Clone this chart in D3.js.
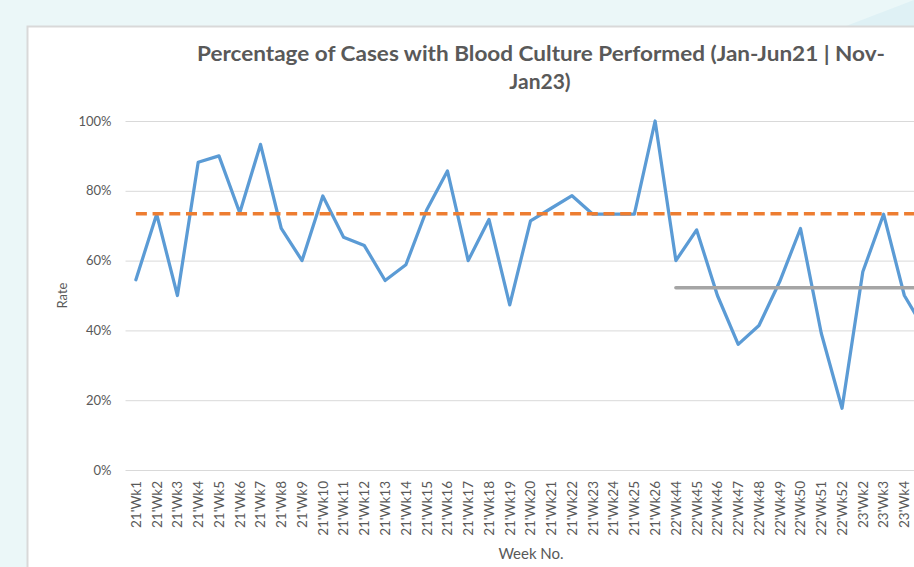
<!DOCTYPE html>
<html>
<head>
<meta charset="utf-8">
<script src="https://cdn.jsdelivr.net/npm/d3@7"></script>
<style>
  html, body { margin: 0; padding: 0; overflow: hidden; background: #ebf7f8; }
  svg { display: block; }
</style>
</head>
<body>
<svg id="chart" width="914" height="567"></svg>
<script>
// ---- data ----
const categories = [
  "21'Wk1","21'Wk2","21'Wk3","21'Wk4","21'Wk5","21'Wk6","21'Wk7","21'Wk8","21'Wk9","21'Wk10",
  "21'Wk11","21'Wk12","21'Wk13","21'Wk14","21'Wk15","21'Wk16","21'Wk17","21'Wk18","21'Wk19","21'Wk20",
  "21'Wk21","21'Wk22","21'Wk23","21'Wk24","21'Wk25","21'Wk26",
  "22'Wk44","22'Wk45","22'Wk46","22'Wk47","22'Wk48","22'Wk49","22'Wk50","22'Wk51","22'Wk52",
  "23'Wk2","23'Wk3","23'Wk4","23'Wk5"
];
const rateValues = [
  0.545, 0.733, 0.50, 0.882, 0.90, 0.737, 0.933, 0.692, 0.60, 0.785,
  0.667, 0.643, 0.543, 0.588, 0.745, 0.857, 0.60, 0.718, 0.473, 0.714,
  0.75, 0.786, 0.733, 0.733, 0.733, 1.00,
  0.60, 0.688, 0.50, 0.36, 0.414, 0.54, 0.692, 0.392, 0.177,
  0.568, 0.733, 0.50, 0.40
];
const meanBefore = categories.map(() => 0.734);
const meanAfterStart = 26;
const meanAfter = categories.map((c, i) => i >= meanAfterStart ? 0.522 : null);
const yTicks = [0, 0.2, 0.4, 0.6, 0.8, 1.0];
const titleLines = ["Percentage of Cases with Blood Culture Performed (Jan-Jun21 | Nov-", "Jan23)"];
const yLabel = "Rate";
const xLabel = "Week No.";

// ---- drawing ----
const svg = d3.select("#chart");
const W = 914, H = 567;
const textColor = "#595959";
const font = "Lato, 'Open Sans', sans-serif";

svg.append("rect").attr("width", W).attr("height", H).attr("fill", "#ebf7f8");
svg.append("polygon")
  .attr("points", "846,26 914,0 914,26")
  .attr("fill", "#dff1f5");
// chart panel
svg.append("rect")
  .attr("x", 27.5).attr("y", 26.5)
  .attr("width", 1000).attr("height", 600)
  .attr("fill", "#ffffff")
  .attr("stroke", "#d9d9d9").attr("stroke-width", 2);

const plot = { left: 125.5, right: 935.5, top: 121, bottom: 470 };

const x = d3.scaleBand().domain(categories).range([plot.left, plot.right]).padding(0);
const cx = d => x(d) + x.bandwidth() / 2;
const y = d3.scaleLinear().domain([0, 1]).range([plot.bottom, plot.top]);

// gridlines + y axis
const yAxis = d3.axisLeft(y)
  .tickValues(yTicks)
  .tickFormat(d3.format(".0%"))
  .tickSize(-(plot.right - plot.left))
  .tickPadding(14);
const gy = svg.append("g").attr("transform", `translate(${plot.left},0)`).call(yAxis);
gy.select(".domain").remove();
gy.selectAll(".tick line").attr("stroke", "#d9d9d9").attr("stroke-width", 1);
gy.selectAll(".tick text")
  .attr("fill", textColor).attr("font-family", font).attr("font-size", 13);

// x axis (only labels that fall inside the visible page)
const xAxis = d3.axisBottom(x).tickSize(0).tickPadding(0)
  .tickValues(categories.filter(c => cx(c) + 8 < W));
const gx = svg.append("g").attr("transform", `translate(0,${plot.bottom})`).call(xAxis);
gx.select(".domain").remove();
gx.selectAll(".tick text")
  .attr("fill", textColor).attr("font-family", font).attr("font-size", 13.5)
  .attr("text-anchor", "end")
  .attr("transform", "rotate(-90)")
  .attr("x", -11).attr("y", 0).attr("dy", "0.36em");

// lines
const lineGen = d3.line()
  .defined(d => d.v !== null)
  .x(d => cx(d.c))
  .y(d => y(d.v));

const toPts = arr => categories.map((c, i) => ({ c, v: arr[i] }));

svg.append("path")
  .datum(toPts(rateValues))
  .attr("d", lineGen)
  .attr("fill", "none")
  .attr("stroke", "#5b9bd5")
  .attr("stroke-width", 3.25)
  .attr("stroke-linejoin", "round")
  .attr("stroke-linecap", "round");

svg.append("path")
  .datum(toPts(meanBefore))
  .attr("d", lineGen)
  .attr("fill", "none")
  .attr("stroke", "#ed7d31")
  .attr("stroke-width", 3.5)
  .attr("stroke-dasharray", "11,5.7");

svg.append("path")
  .datum(toPts(meanAfter))
  .attr("d", lineGen)
  .attr("fill", "none")
  .attr("stroke", "#a5a5a5")
  .attr("stroke-width", 3.5)
  .attr("stroke-linecap", "round");

// title
const title = svg.append("g")
  .attr("font-family", font).attr("font-weight", "bold").attr("font-size", 21)
  .attr("fill", textColor).attr("text-anchor", "middle");
title.append("text").attr("x", 541).attr("y", 61).text(titleLines[0])
  .attr("textLength", 688).attr("lengthAdjust", "spacingAndGlyphs");
title.append("text").attr("x", 540).attr("y", 89).text(titleLines[1]);

// axis titles
svg.append("text")
  .attr("transform", `translate(67,${(plot.top + plot.bottom) / 2}) rotate(-90)`)
  .attr("text-anchor", "middle")
  .attr("font-family", font).attr("font-size", 13).attr("fill", textColor)
  .text(yLabel);
svg.append("text")
  .attr("x", 531).attr("y", 559)
  .attr("text-anchor", "middle")
  .attr("font-family", font).attr("font-size", 15).attr("fill", textColor)
  .text(xLabel);
</script>
</body>
</html>
